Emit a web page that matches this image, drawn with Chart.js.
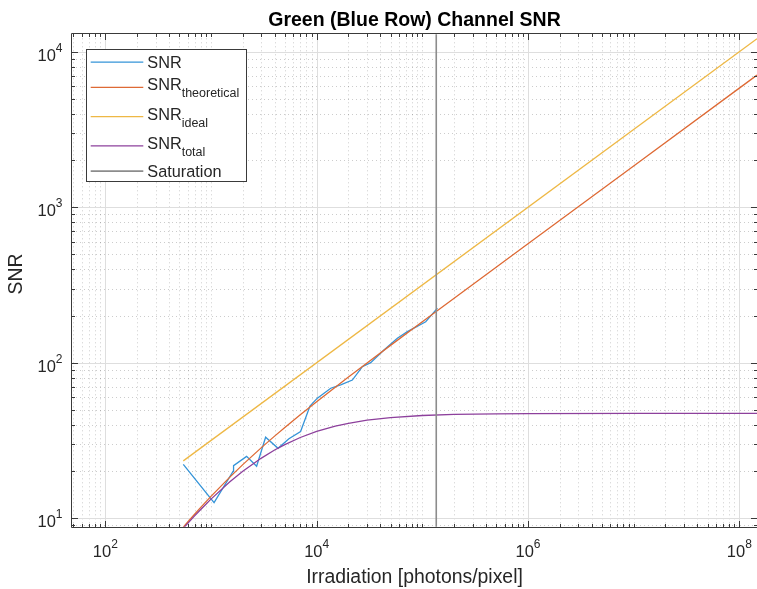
<!DOCTYPE html>
<html>
<head>
<meta charset="utf-8">
<script src="https://cdn.jsdelivr.net/npm/chart.js@4/dist/chart.umd.min.js"></script>
<style>
html,body{margin:0;padding:0;background:#ffffff;}
#wrap{width:757px;height:589px;position:relative;}
canvas{display:block;}
</style>
</head>
<body>
<div id="wrap"><canvas id="c" width="757" height="589"></canvas></div>
<script>
// ---------- data ----------
const chartTitle = 'Green (Blue Row) Channel SNR';
const xAxisTitle = 'Irradiation [photons/pixel]';
const yAxisTitle = 'SNR';

const seriesNames = ['SNR', 'SNR', 'SNR', 'SNR', 'Saturation'];
const seriesSubs  = ['', 'theoretical', 'ideal', 'total', ''];

// measured SNR
const irradiation = [547, 1070, 1618, 1636, 2173, 2704, 3289, 4313, 5466, 7048, 8645, 10160, 13590, 16880, 21770, 27080, 32460, 43360, 58050, 72270, 107700, 120200, 139000];
const snrMeasured = [22.2, 12.6, 20.0, 21.8, 25.0, 21.6, 33.2, 28.2, 32.5, 36.1, 52.7, 59.2, 68.6, 72.0, 77.4, 94.4, 100.1, 120.8, 143.8, 158.5, 183.5, 200, 224];

// theoretical SNR
const theoIrr = [547, 600, 700, 800, 1000, 1500, 2000, 3000, 4000, 5000, 7000, 10000, 15000, 20000, 30000, 50000, 100000, 1000000, 10000000, 100000000, 147000000];
const snrTheoretical = [8.77, 9.43, 10.62, 11.75, 13.83, 18.33, 22.13, 28.47, 33.75, 38.36, 46.29, 56.17, 69.63, 80.91, 99.71, 129.4, 183.7, 582.9, 1843.6, 5830.9, 7069];

// ideal SNR
const idealIrr = [547, 147000000];
const snrIdeal = [23.4, 12124];

// total SNR
const totalIrr = [547, 600, 700, 800, 1000, 1500, 2000, 3000, 4000, 5000, 7000, 10000, 15000, 20000, 30000, 50000, 100000, 200000, 500000, 1000000, 10000000, 100000000, 147000000];
const snrTotal = [8.62, 9.25, 10.37, 11.40, 13.28, 17.09, 20.05, 24.39, 27.47, 29.79, 33.08, 36.2, 39.14, 40.83, 42.74, 44.42, 45.81, 46.54, 46.99, 47.14, 47.29, 47.30, 47.30];

// saturation
const saturationIrr = [135500, 135500];
const saturationSnr = [1, 100000];

// axis ranges and labelled decades
const xRange = [48.4, 147000000];
const yRange = [8.83, 12940];
const xTickExps = [2, 4, 6, 8];
const yTickExps = [1, 2, 3, 4];

// ---------- styling ----------
const FONT = '"Liberation Sans", Arial, Helvetica, sans-serif';
const TEXT = '#262626';
const AXIS = '#3a3a3a';
const colors = ['#3594d8', '#de6a35', '#eeb845', '#8d409c', '#8c8c8c'];
const widths = [1.3, 1.3, 1.3, 1.3, 1.6];

function pts(xs, ys) { return xs.map((v, i) => ({x: v, y: ys[i]})); }
const seriesData = [
  pts(irradiation, snrMeasured),
  pts(theoIrr, snrTheoretical),
  pts(idealIrr, snrIdeal),
  pts(totalIrr, snrTotal),
  pts(saturationIrr, saturationSnr)
];

function logList(min, max) {
  const out = [];
  for (let n = Math.floor(Math.log10(min)); n <= Math.ceil(Math.log10(max)); n++) {
    for (let k = 1; k < 10; k++) {
      const v = k * Math.pow(10, n);
      if (v >= min && v <= max) out.push({v, n, k});
    }
  }
  return out;
}

const gridPlugin = {
  id: 'matlabGrid',
  beforeDatasetsDraw(chart) {
    const {ctx, chartArea: a, scales: {x, y}} = chart;
    ctx.save();
    ctx.beginPath();
    ctx.rect(a.left, a.top, a.right - a.left, a.bottom - a.top);
    ctx.clip();
    ctx.lineWidth = 1;
    // minor (dotted)
    ctx.strokeStyle = 'rgba(0,0,0,0.2)';
    ctx.setLineDash([1, 3]);
    ctx.beginPath();
    logList(xRange[0], xRange[1]).forEach(t => {
      if (t.k === 1 && xTickExps.includes(t.n)) return;
      const p = Math.round(x.getPixelForValue(t.v)) + 0.5;
      ctx.moveTo(p, a.top); ctx.lineTo(p, a.bottom);
    });
    logList(yRange[0], yRange[1]).forEach(t => {
      if (t.k === 1 && yTickExps.includes(t.n)) return;
      const p = Math.round(y.getPixelForValue(t.v)) + 0.5;
      ctx.moveTo(a.left, p); ctx.lineTo(a.right, p);
    });
    ctx.stroke();
    // major (solid)
    ctx.setLineDash([]);
    ctx.strokeStyle = '#dedede';
    ctx.beginPath();
    xTickExps.forEach(e => {
      const p = Math.round(x.getPixelForValue(Math.pow(10, e))) + 0.5;
      ctx.moveTo(p, a.top); ctx.lineTo(p, a.bottom);
    });
    yTickExps.forEach(e => {
      const p = Math.round(y.getPixelForValue(Math.pow(10, e))) + 0.5;
      ctx.moveTo(a.left, p); ctx.lineTo(a.right, p);
    });
    ctx.stroke();
    ctx.restore();
  },
  afterDatasetsDraw(chart) {
    const {ctx, chartArea: a, scales: {x, y}} = chart;
    ctx.save();
    ctx.strokeStyle = AXIS;
    ctx.lineWidth = 1;
    ctx.beginPath();
    const L = Math.round(a.left) - 0.5, R = Math.round(a.right) + 0.5;
    const T = Math.round(a.top) - 0.5, B = Math.round(a.bottom) + 0.5;
    ctx.rect(L, T, R - L, B - T);
    logList(xRange[0], xRange[1]).forEach(t => {
      const major = t.k === 1 && xTickExps.includes(t.n);
      const len = major ? 6.5 : 3.5;
      const p = Math.round(x.getPixelForValue(t.v)) + 0.5;
      ctx.moveTo(p, B); ctx.lineTo(p, B - len);
      ctx.moveTo(p, T); ctx.lineTo(p, T + len);
    });
    logList(yRange[0], yRange[1]).forEach(t => {
      const major = t.k === 1 && yTickExps.includes(t.n);
      const len = major ? 6.5 : 3.5;
      const p = Math.round(y.getPixelForValue(t.v)) + 0.5;
      ctx.moveTo(L, p); ctx.lineTo(L + len, p);
      ctx.moveTo(R, p); ctx.lineTo(R - len, p);
    });
    ctx.stroke();
    ctx.restore();
  },
  afterDraw(chart) {
    const {ctx, chartArea: a, scales: {x, y}} = chart;
    ctx.save();
    ctx.fillStyle = TEXT;
    ctx.textBaseline = 'alphabetic';
    ctx.textAlign = 'left';
    const bigF = '16.5px ' + FONT, smallF = '12px ' + FONT;
    // x tick labels
    xTickExps.forEach(e => {
      const p = x.getPixelForValue(Math.pow(10, e));
      ctx.font = bigF; const w1 = ctx.measureText('10').width;
      ctx.font = smallF; const w2 = ctx.measureText(String(e)).width;
      const left = p - (w1 + w2) / 2;
      const base = a.bottom + 30.3;
      ctx.font = bigF; ctx.fillText('10', left, base);
      ctx.font = smallF; ctx.fillText(String(e), left + w1, base - 8.7);
    });
    // y tick labels
    yTickExps.forEach(e => {
      const p = y.getPixelForValue(Math.pow(10, e));
      ctx.font = bigF; const w1 = ctx.measureText('10').width;
      ctx.font = smallF; const w2 = ctx.measureText(String(e)).width;
      const right = a.left - 9.5;
      const base = p + 8.8;
      ctx.font = bigF; ctx.fillText('10', right - w1 - w2, base);
      ctx.font = smallF; ctx.fillText(String(e), right - w2, base - 8.7);
    });
    // y axis title
    ctx.save();
    ctx.translate(17, 274);
    ctx.rotate(-Math.PI / 2);
    ctx.textAlign = 'center';
    ctx.textBaseline = 'middle';
    ctx.font = '19.4px ' + FONT;
    ctx.fillText(yAxisTitle, 0, 0);
    ctx.restore();
    // legend
    const bx = 86.5, by = 49.5, bw = 160, bh = 132;
    ctx.fillStyle = '#ffffff';
    ctx.fillRect(bx, by, bw, bh);
    ctx.strokeStyle = AXIS;
    ctx.lineWidth = 1;
    ctx.strokeRect(bx, by, bw, bh);
    let yy = by + 1.8;
    chart.data.datasets.forEach((ds, i) => {
      const sub = seriesSubs[i];
      const h = sub ? 29.2 : 21.5;
      const cy = yy + h / 2;
      ctx.strokeStyle = ds.borderColor;
      ctx.lineWidth = ds.borderWidth;
      ctx.beginPath();
      ctx.moveTo(90.7, cy); ctx.lineTo(143.3, cy);
      ctx.stroke();
      ctx.fillStyle = TEXT;
      ctx.font = '16.3px ' + FONT;
      const base = sub ? cy + 3 : cy + 5.8;
      ctx.fillText(seriesNames[i], 147.3, base);
      if (sub) {
        const w = ctx.measureText(seriesNames[i]).width;
        ctx.font = '12.5px ' + FONT;
        ctx.fillText(sub, 147.3 + w, base + 7);
      }
      yy += h;
    });
    ctx.restore();
  }
};

const datasets = seriesData.map((d, i) => ({
  label: seriesNames[i] + seriesSubs[i],
  data: d,
  showLine: true,
  borderColor: colors[i],
  backgroundColor: colors[i],
  borderWidth: widths[i],
  pointRadius: 0,
  pointHoverRadius: 0,
  fill: false,
  tension: 0,
  order: 5 - i
}));

new Chart(document.getElementById('c'), {
  type: 'scatter',
  data: { datasets },
  plugins: [gridPlugin],
  options: {
    responsive: false,
    animation: false,
    devicePixelRatio: 1,
    layout: { padding: 0 },
    plugins: {
      legend: { display: false },
      tooltip: { enabled: false },
      title: {
        display: true,
        text: chartTitle,
        fullSize: false,
        color: '#000000',
        font: { family: FONT, size: 19.5, weight: 'bold' },
        padding: { top: 8.8, bottom: 2.1 }
      }
    },
    scales: {
      x: {
        type: 'logarithmic',
        min: xRange[0],
        max: xRange[1],
        grid: { display: false },
        border: { display: false },
        ticks: { display: false },
        title: {
          display: true,
          text: xAxisTitle,
          color: TEXT,
          font: { family: FONT, size: 19.4 },
          padding: { top: 0, bottom: 0 }
        },
        afterFit(s) { s.height = 62.3; }
      },
      y: {
        type: 'logarithmic',
        min: yRange[0],
        max: yRange[1],
        grid: { display: false },
        border: { display: false },
        ticks: { display: false },
        title: { display: false, text: yAxisTitle },
        afterFit(s) { s.width = 72; }
      }
    }
  }
});
</script>
</body>
</html>
